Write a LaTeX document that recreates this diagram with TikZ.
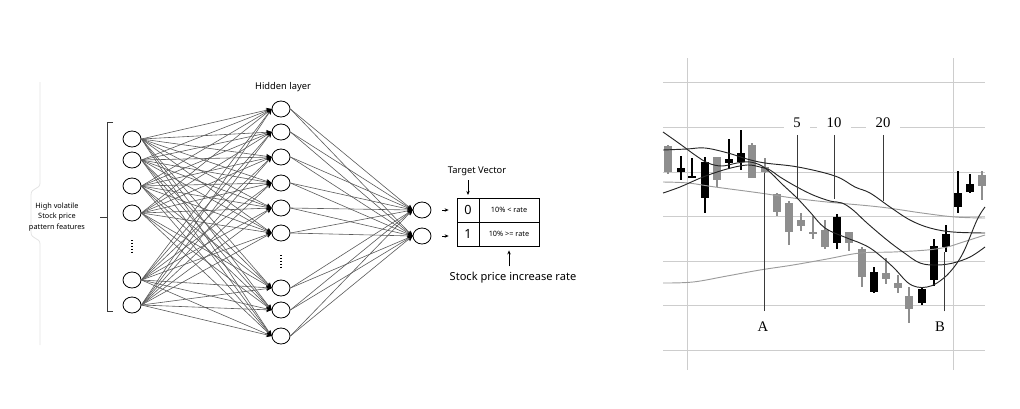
\documentclass[tikz,border=0pt]{standalone}
\usepackage{fontspec}
\setsansfont{Noto Sans}
\newfontfamily\chartfont{Liberation Serif}
\usepackage{tikz}
\usetikzlibrary{positioning,arrows.meta,calc,shapes.geometric}

\definecolor{edgegray}{HTML}{5A5A5A}
\definecolor{candlegray}{HTML}{8E8E8E}
\definecolor{gridgray}{HTML}{CDCDCD}
\definecolor{magray}{HTML}{9C9C9C}
\definecolor{inkgray}{HTML}{3A3A3A}

\tikzset{
  neuron/.style={ellipse, draw, line width=0.6pt, minimum width=13.5pt, minimum height=12pt, inner sep=0pt},
  link/.style={draw=edgegray, line width=0.45pt, -{Stealth[length=4pt,width=3.6pt,color=black]}},
  pointer/.style={draw, line width=0.5pt, -{Stealth[length=3pt,width=2.6pt]}},
  cell/.style={draw, line width=0.6pt, minimum height=18pt, inner sep=0pt},
  gridline/.style={draw=gridgray, line width=0.6pt},
  maline/.style={draw=black!85, line width=0.7pt},
  maband/.style={draw=magray, line width=0.7pt},
  leader/.style={draw=inkgray, line width=0.6pt},
  ellipsis/.style={draw, line width=0.9pt, dash pattern=on 0.7pt off 1.5pt},
  period/.style={fill=white, inner xsep=7pt, inner ysep=2pt, font=\chartfont\fontsize{11}{13}\selectfont},
  signal/.style={inner sep=2pt, font=\chartfont\fontsize{11}{13}\selectfont},
}

% candle: x, body top, body bottom, wick top, wick bottom, colour
\newcommand{\candle}[6]{%
  \draw[#6, line width=0.8pt] (#1,#4) -- (#1,#5);
  \fill[#6] ({#1-4},#2) rectangle ({#1+4},#3);
}

\begin{document}
\begin{tikzpicture}[x=0.75pt, y=-0.75pt, font=\sffamily]
  \useasboundingbox (0,0) rectangle (1020,408);

  % ---- network ----
  \draw[draw=gray!22, line width=0.6pt] (40,82) -- (40,183)
    .. controls (40,190) and (31,187) .. (31,195) -- (31,232)
    .. controls (31,240) and (40,237) .. (40,244) -- (40,345);
  \node[align=center, font=\sffamily\fontsize{5.5}{7.9}\selectfont] (feat) at (57,217) {High volatile\\Stock price\\pattern features};
  \draw[inkgray, line width=0.5pt] (113,122) -- (107,122) -- (107,311) -- (113,311);
  \draw[inkgray, line width=0.5pt] (100,217) -- (107,217);

  \node[neuron] (i1) at (132,139) {};
  \node[neuron] (i2) at (132,160) {};
  \node[neuron] (i3) at (132,186) {};
  \node[neuron] (i4) at (132,213) {};
  \node[neuron] (i5) at (132,280) {};
  \node[neuron] (i6) at (132,305) {};
  \draw[ellipsis] (132,240) -- (132,254);

  \node[font=\sffamily\fontsize{7}{8}\selectfont] (hid) at (283,87) {Hidden layer};
  \node[neuron] (h1) at (281,109) {};
  \node[neuron] (h2) at (281,132) {};
  \node[neuron] (h3) at (281,157) {};
  \node[neuron] (h4) at (281,183) {};
  \node[neuron] (h5) at (281,208) {};
  \node[neuron] (h6) at (281,233) {};
  \node[neuron] (h7) at (281,288) {};
  \node[neuron] (h8) at (281,310) {};
  \node[neuron] (h9) at (281,336) {};
  \draw[ellipsis] (281,255) -- (281,269);

  \node[neuron] (o1) at (422,210) {};
  \node[neuron] (o2) at (422,236) {};

  \foreach \i in {1,...,6}
    \foreach \h in {1,...,9}
      \draw[link] (i\i.east) -- (h\h.west);
  \foreach \h in {1,...,9}
    \foreach \o in {1,2}
      \draw[link] (h\h.east) -- (o\o.west);

  % target table
  \node[cell, minimum width=16.5pt, font=\sffamily\fontsize{9.5}{10}\selectfont] (d0) at (468,210) {0};
  \node[cell, minimum width=45pt, font=\sffamily\fontsize{5.5}{6}\selectfont] (t0) at (509,210) {10\% < rate};
  \node[cell, minimum width=16.5pt, font=\sffamily\fontsize{9.5}{10}\selectfont] (d1) at (468,234) {1};
  \node[cell, minimum width=45pt, font=\sffamily\fontsize{5.5}{6}\selectfont] (t1) at (509,234) {10\% >= rate};

  \draw[pointer, shorten <=8pt, shorten >=6pt] (o1.east) -- (o1.east -| d0.west);
  \draw[pointer, shorten <=8pt, shorten >=6pt] (o2.east) -- (o2.east -| d1.west);

  \node[font=\sffamily\fontsize{7}{8}\selectfont] (tv) at (477,171) {Target Vector};
  \draw[pointer, shorten >=2pt] (tv.south -| d0.north) -- (d0.north);
  \node[font=\sffamily\fontsize{8.3}{9}\selectfont] (rate) at (513,278) {Stock price increase rate};
  \draw[pointer, shorten <=1pt, shorten >=3pt] (rate.north -| t1.south) -- (t1.south);

  % ---- chart ----
  \foreach \y in {82,127,172,216,261,305,350}
    \draw[gridline] (663,\y) -- (985,\y);
  \draw[gridline] (687,58) -- (687,370);
  \draw[gridline] (953,58) -- (953,370);

  \candle{668}{146}{172}{145}{174}{candlegray}
  \candle{681}{168}{172}{156}{180}{black}
  \candle{692}{176}{177.5}{158}{178}{black}
  \candle{705}{162}{198}{157}{213}{black}
  \candle{717}{157}{180}{157}{187}{candlegray}
  \candle{729}{159}{163}{139}{169}{black}
  \candle{741}{153}{162}{130}{170}{black}
  \candle{752}{145}{178}{143}{178}{candlegray}
  \candle{765}{167}{172}{158}{173}{candlegray}
  \candle{777}{194}{212}{193}{216}{candlegray}
  \candle{789}{203}{232}{201}{245}{candlegray}
  \candle{801}{220}{226}{213}{231}{candlegray}
  \candle{813}{232}{233.5}{216}{239}{candlegray}
  \candle{825}{230}{247}{220}{249}{candlegray}
  \candle{837}{217}{243}{214}{249}{black}
  \candle{849}{232}{243}{232}{251}{candlegray}
  \candle{862}{249}{277}{247}{287}{candlegray}
  \candle{874}{272}{292}{267}{293}{black}
  \candle{886}{273}{279}{258}{284}{candlegray}
  \candle{898}{283}{288}{275}{293}{candlegray}
  \candle{909}{296}{309}{287}{323}{candlegray}
  \candle{922}{289}{303}{288}{305}{black}
  \candle{934}{246}{280}{239}{286}{black}
  \candle{946}{234}{247}{225}{252}{black}
  \candle{958}{193}{207}{171}{213}{black}
  \candle{970}{184}{192}{174}{193}{black}
  \candle{982}{175}{186}{171}{200}{candlegray}

  % moving averages
  \draw[maband] plot[smooth, tension=0.6] coordinates {(663,283) (693,282) (727,276) (760,270) (793,265) (827,259) (860,253) (893,252) (927,250) (947,247) (960,243) (985,235)};
  \draw[maband] plot[smooth, tension=0.6] coordinates {(663,182) (688,183) (715,187) (760,193) (793,198) (827,202) (880,207) (922,213) (955,217) (985,218)};
  \draw[maline] plot[smooth, tension=0.6] coordinates {(663,150) (687,149) (705,148) (728,153) (747,159) (765,163) (798,167) (835,176) (855,187) (870,193) (890,207) (910,220) (930,228) (953,232) (985,233)};
  \draw[maline] plot[smooth, tension=0.6] coordinates {(663,193) (680,187) (703,177) (727,169) (747,165) (760,167) (770,170) (780,177) (797,187) (813,195) (830,201) (842,203) (853,210) (867,223) (887,240) (903,252) (920,263) (937,265) (953,263) (970,257) (985,247)};
  \draw[maline] plot[smooth, tension=0.6] coordinates {(663,132) (680,144) (695,155) (708,163) (722,166) (737,163) (750,162) (762,166) (772,174) (782,184) (797,198) (810,212) (825,228) (847,238) (860,243) (873,250) (893,267) (907,282) (917,287) (927,287) (937,283) (950,272) (963,253) (977,220) (985,207)};

  % labels
  \node[period] (n5) at (797,123) {5};
  \node[period] (n10) at (834,123) {10};
  \node[period] (n20) at (883,123) {20};
  \coordinate (f5) at (797,198);
  \coordinate (f10) at (834,199);
  \coordinate (f20) at (883,201);
  \draw[leader, shorten <=3pt] (n5) -- (f5);
  \draw[leader, shorten <=3pt] (n10) -- (f10);
  \draw[leader, shorten <=3pt] (n20) -- (f20);

  \node[signal] (la) at (763,327) {A};
  \coordinate (fa) at (764,173);
  \draw[leader, shorten <=6pt] (la.north -| fa) -- (fa);
  \node[signal] (lb) at (940,327) {B};
  \coordinate (fb) at (944,252);
  \draw[leader, shorten <=6pt] (lb.north -| fb) -- (fb);
\end{tikzpicture}
\end{document}
